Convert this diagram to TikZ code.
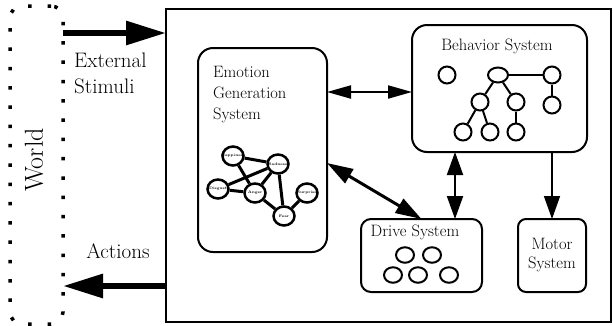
\documentclass[tikz,border=0pt]{standalone}
\usetikzlibrary{arrows.meta,shapes.geometric,calc}
\begin{document}
\begin{tikzpicture}[x=1pt,y=-1pt,
  sysbox/.style={draw, line width=2pt, inner sep=0pt, outer sep=0pt},
  worldbox/.style={draw, line width=3.5pt, dash pattern=on 3.5pt off 15.8pt, rounded corners=12pt, inner sep=0pt, outer sep=0pt},
  bigtxt/.style={font=\fontsize{21}{26}\selectfont, inner sep=0pt},
  boxtxt/.style={font=\fontsize{16.5}{21}\selectfont, inner sep=0pt},
  emonode/.style={ellipse, draw, line width=2.5pt, minimum width=21pt, minimum height=19pt, inner sep=0pt, fill=white,
    label={[font=\fontsize{3.6}{4}\selectfont\bfseries, inner sep=0pt]center:#1}},
  emoedge/.style={line width=3pt},
  tnode/.style={ellipse, draw, line width=2pt, minimum width=17pt, minimum height=17pt, inner sep=0pt},
  tedge/.style={line width=2pt},
  dnode/.style={ellipse, draw, line width=2pt, minimum width=18pt, minimum height=15.5pt, inner sep=0pt},
  bigarrow/.style={line width=6pt, -{Triangle[length=40pt,width=23pt]}},
]
\useasboundingbox (0,0) rectangle (613,325);

% world and main frame
\node[worldbox, minimum width=53pt, minimum height=318pt] (world) at (36.5,165) {};
\node[rotate=90, font=\fontsize{26}{30}\selectfont, inner sep=0pt] (wlabel) at (34,160) {World};
\node[draw, line width=2.5pt, inner sep=0pt, outer sep=0pt, minimum width=445pt, minimum height=313pt] (main) at (388.5,165.5) {};

% external arrows
\coordinate (ext) at (0,33);
\coordinate (act) at (0,286);
\draw[bigarrow] (world.east |- ext) -- (main.west |- ext);
\draw[bigarrow] (main.west |- act) -- (world.east |- act);
\node[bigtxt, anchor=base west, align=left] (lext) at (74,93) {External\\Stimuli};
\node[bigtxt, anchor=base] (lact) at (118,258) {Actions};

% system boxes
\node[sysbox, rounded corners=15pt, minimum width=129pt, minimum height=204pt] (emo) at (262.5,150) {};
\node[sysbox, rounded corners=15pt, minimum width=175pt, minimum height=127pt] (beh) at (499.5,88.5) {};
\node[sysbox, rounded corners=10pt, minimum width=121pt, minimum height=73pt] (drv) at (421.5,255.5) {};
\node[sysbox, rounded corners=8pt, minimum width=68pt, minimum height=73pt] (mot) at (552,255.5) {};

\node[boxtxt, anchor=base west, align=left] (emotxt) at (213,119.5) {Emotion\\Generation\\System};
\node[boxtxt, anchor=base] (behtxt) at (497,50) {Behavior System};
\node[boxtxt, anchor=base] (drvtxt) at (415,236.5) {Drive System};
\node[boxtxt, align=center, font=\fontsize{16.5}{19}\selectfont] (mottxt) at (mot.center) {Motor\\System};

% emotion graph
\node[emonode=Happiness] (hap) at (233,156) {};
\node[emonode=Sadness] (sad) at (278,164) {};
\node[emonode=Disgust] (dis) at (218,189) {};
\node[emonode=Anger] (ang) at (255,193) {};
\node[emonode=Surprise] (sur) at (307,193) {};
\node[emonode=Fear] (fea) at (284,216) {};
\draw[emoedge] (hap) -- (sad);
\draw[emoedge] (hap) -- (ang);
\draw[emoedge] (sad) -- (dis);
\draw[emoedge] (sad) -- (ang);
\draw[emoedge] (sad) -- (fea);
\draw[emoedge] (dis) -- (ang);
\draw[emoedge] (ang) -- (fea);
\draw[emoedge] (fea) -- (sur);

% behavior tree
\node[tnode] (lone) at (447,75) {};
\node[tnode, minimum width=20pt, minimum height=15pt] (root) at (498,75) {};
\node[tnode] (rt) at (552,75) {};
\node[tnode] (rb) at (552,105) {};
\node[tnode] (l2a) at (480,102) {};
\node[tnode] (l2b) at (516,102) {};
\node[tnode] (l3a) at (463,132) {};
\node[tnode] (l3b) at (490,132) {};
\node[tnode] (l3c) at (516,132) {};
\draw[tedge] (root) -- (rt);
\draw[tedge] (rt) -- (rb);
\draw[tedge] (root) -- (l2a);
\draw[tedge] (root) -- (l2b);
\draw[tedge] (l2a) -- (l3a);
\draw[tedge] (l2a) -- (l3b);
\draw[tedge] (l2b) -- (l3c);

% drive circles
\node[dnode] (d1) at (405,255) {};
\node[dnode] (d2) at (432,255) {};
\node[dnode] (d3) at (393,275) {};
\node[dnode] (d4) at (418,275) {};
\node[dnode] (d5) at (449,275) {};

% connectors
\coordinate (eb) at (0,92);
\coordinate (ed) at (0,163);
\coordinate (bdx) at (455,0);
\draw[line width=2pt, {Triangle[length=24pt,width=13pt]}-{Triangle[length=24pt,width=13pt]}] (emo.east |- eb) -- (beh.west |- eb);
\draw[line width=3pt, {Triangle[length=26pt,width=16pt]}-{Triangle[length=26pt,width=16pt]}] (emo.east |- ed) -- (drv.north);
\draw[line width=2pt, {Triangle[length=23pt,width=16pt]}-{Triangle[length=23pt,width=16pt]}] (bdx |- beh.south) -- (bdx |- drv.north);
\draw[line width=1.5pt, -{Triangle[length=23pt,width=16pt]}] (mot.north |- beh.south) -- (mot.north);
\end{tikzpicture}
\end{document}
